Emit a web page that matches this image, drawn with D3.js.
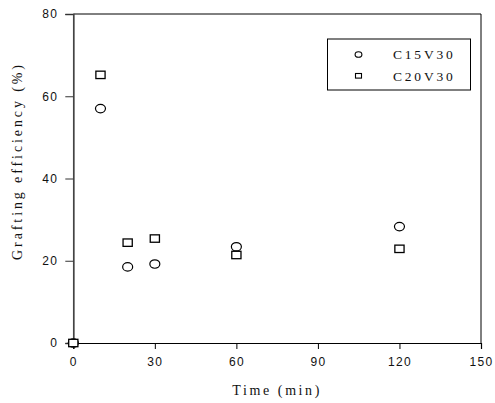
<!DOCTYPE html>
<html><head><meta charset="utf-8">
<script src="https://cdn.jsdelivr.net/npm/d3@7"></script>
<style>body{margin:0;background:#fff}</style>
</head><body>
<svg id="c" width="495" height="403"></svg>
<script>
const times = [0, 10, 20, 30, 60, 120];
const c15v30 = [0, 57, 18.5, 19.2, 23.4, 28.3];
const c20v30 = [0, 65.2, 24.4, 25.4, 21.4, 22.9];
const xTicks = [0, 30, 60, 90, 120, 150];
const yTicks = [0, 20, 40, 60, 80];
const seriesNames = ["C15V30", "C20V30"];

const svg = d3.select("#c");
const L = 73.3, R = 481, T = 14, B = 343;
const x = d3.scaleLinear().domain([0, 150]).range([L, R]);
const y = d3.scaleLinear().domain([0, 80]).range([B, T]);

// frame top/right
svg.append("line").attr("x1", L).attr("x2", R).attr("y1", T).attr("y2", T).attr("stroke", "#000").attr("stroke-width", 1);
svg.append("line").attr("x1", R).attr("x2", R).attr("y1", T).attr("y2", B).attr("stroke", "#000").attr("stroke-width", 1);

const xAxis = svg.append("g").attr("transform", `translate(0,${B})`)
  .call(d3.axisBottom(x).tickValues(xTicks).tickSize(6).tickPadding(8).tickFormat(d3.format("d")));
xAxis.select(".domain").attr("stroke", "#000").attr("stroke-width", 1.2);
xAxis.selectAll(".tick line").attr("stroke", "#000");
xAxis.selectAll("text").attr("font-family", "Arial, 'Liberation Sans', sans-serif").attr("font-size", 12).attr("letter-spacing", "1.3px").attr("fill", "#111");

const yAxis = svg.append("g").attr("transform", `translate(${L},0)`)
  .call(d3.axisLeft(y).tickValues(yTicks).tickSize(8).tickPadding(7).tickFormat(d3.format("d")));
yAxis.select(".domain").attr("stroke", "#444").attr("stroke-width", 1.7);
yAxis.selectAll(".tick line").attr("stroke", "#333");
yAxis.selectAll("text").attr("font-family", "Arial, 'Liberation Sans', sans-serif").attr("font-size", 12).attr("letter-spacing", "1.3px").attr("fill", "#111");

// titles
svg.append("text").attr("x", x(75)).attr("y", 395).attr("text-anchor", "middle")
  .attr("font-family", "'Liberation Serif', 'Times New Roman', serif").attr("font-size", 14)
  .attr("letter-spacing", "2.6px").attr("fill", "#111").text("Time (min)");
svg.append("text").attr("transform", "translate(22,161) rotate(-90)").attr("text-anchor", "middle")
  .attr("font-family", "'Liberation Serif', 'Times New Roman', serif").attr("font-size", 14)
  .attr("letter-spacing", "2.9px").attr("fill", "#111").text("Grafting efficiency (%)");

// markers
const d1 = times.map((t, i) => ({t, v: c15v30[i]}));
const d2 = times.map((t, i) => ({t, v: c20v30[i]}));
svg.append("g").selectAll("ellipse").data(d1).join("ellipse")
  .attr("cx", d => x(d.t)).attr("cy", d => y(d.v)).attr("rx", 5).attr("ry", 4.2)
  .attr("fill", "#fff").attr("stroke", "#000").attr("stroke-width", 1.2);
svg.append("g").selectAll("rect").data(d2).join("rect")
  .attr("x", d => x(d.t) - 4.6).attr("y", d => y(d.v) - 3.7).attr("width", 9.2).attr("height", 7.4)
  .attr("fill", "#fff").attr("stroke", "#000").attr("stroke-width", 1.3);

// legend
const lg = svg.append("g");
lg.append("rect").attr("x", 327.5).attr("y", 39).attr("width", 143).attr("height", 51)
  .attr("fill", "#fff").attr("stroke", "#000").attr("stroke-width", 1);
lg.append("ellipse").attr("cx", 358.5).attr("cy", 54.5).attr("rx", 3.4).attr("ry", 2.8)
  .attr("fill", "#fff").attr("stroke", "#000").attr("stroke-width", 1.1);
lg.append("rect").attr("x", 355.5).attr("y", 73.5).attr("width", 6).attr("height", 4.6)
  .attr("fill", "#fff").attr("stroke", "#000").attr("stroke-width", 1.1);
lg.selectAll("text").data(seriesNames).join("text")
  .attr("x", 393).attr("y", (d, i) => 59 + i * 21.5)
  .attr("font-family", "'Liberation Serif', 'Times New Roman', serif").attr("font-size", 13.5)
  .attr("letter-spacing", "2.8px").attr("fill", "#111").text(d => d);
</script>
</body></html>
